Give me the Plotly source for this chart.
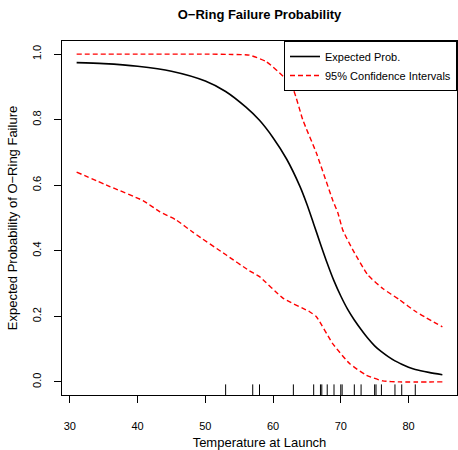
import plotly.graph_objects as go

# Expected probability curve
temp_fit = [31, 35, 40, 45, 50, 53, 56, 58, 60, 62, 64, 65, 66, 67, 68, 69, 70, 71, 72,
            73, 74, 75, 76, 77, 78, 79, 80, 81, 83, 85]
prob_fit = [0.974, 0.971, 0.963, 0.948, 0.918, 0.886, 0.838, 0.798, 0.745, 0.680, 0.595,
            0.542, 0.482, 0.421, 0.362, 0.308, 0.262, 0.222, 0.189, 0.160, 0.133, 0.110,
            0.092, 0.077, 0.064, 0.054, 0.045, 0.038, 0.029, 0.022]

# Upper 95% confidence limit
temp_up = [31, 40, 50, 54, 56.5, 59.0, 61.5, 63.0, 64.4, 66.4, 68.8, 69.6, 70.3, 71.8,
           74.0, 76.2, 78.7, 81.1, 85]
prob_up = [1.0, 1.0, 1.0, 0.999, 0.997, 0.977, 0.932, 0.891, 0.799, 0.698, 0.555, 0.514,
           0.463, 0.402, 0.326, 0.285, 0.250, 0.214, 0.168]

# Lower 95% confidence limit
temp_lo = [31, 35.9, 40.8, 43.3, 45.7, 48.2, 53.1, 56.5, 58.0, 61.5, 65.4, 66.4, 68.8,
           71.3, 73.8, 76.2, 78.7, 85]
prob_lo = [0.640, 0.596, 0.553, 0.519, 0.494, 0.456, 0.387, 0.339, 0.321, 0.255, 0.214,
           0.199, 0.117, 0.056, 0.020, 0.003, 0.0, 0.0]

# Launch temperatures (rug)
launch_temps = [53, 57, 58, 63, 66, 67, 67.2, 68, 69, 70, 70.2, 72, 73, 75, 75.2, 76,
                78, 79, 81]

x_range = [28.84, 87.16]
y_range = [-0.04, 1.04]

fig = go.Figure()

fig.add_trace(go.Scatter(
    x=temp_fit, y=prob_fit, mode="lines", name="Expected Prob.",
    line=dict(color="black", width=1.6, shape="spline", smoothing=0.8),
))
fig.add_trace(go.Scatter(
    x=temp_up, y=prob_up, mode="lines", name="95% Confidence Intervals",
    line=dict(color="red", width=1.4, dash="5px,3px", shape="spline", smoothing=0.5),
))
fig.add_trace(go.Scatter(
    x=temp_lo, y=prob_lo, mode="lines", name="95% Confidence Intervals",
    showlegend=False,
    line=dict(color="red", width=1.4, dash="5px,3px", shape="spline", smoothing=0.5),
))

# rug ticks
rug_h = 0.03 * (y_range[1] - y_range[0])
rx, ry = [], []
for t in launch_temps:
    rx += [t, t, None]
    ry += [y_range[0], y_range[0] + rug_h, None]
fig.add_trace(go.Scatter(x=rx, y=ry, mode="lines", showlegend=False,
                         line=dict(color="black", width=1), hoverinfo="skip"))

font = "Liberation Sans, Arial, Helvetica, sans-serif"

fig.update_layout(
    width=458, height=450,
    margin=dict(l=62, r=1, t=41, b=55),
    paper_bgcolor="white", plot_bgcolor="white",
    font=dict(family=font, size=11, color="black"),
    title=dict(text="<b>O\u2212Ring Failure Probability</b>", x=0.5667, xanchor="center",
               y=1 - 14 / 450, yanchor="middle", font=dict(size=13)),
    showlegend=True,
    legend=dict(x=1, y=1, xanchor="right", yanchor="top",
                bordercolor="black", borderwidth=1, bgcolor="white",
                font=dict(size=11), tracegroupgap=0, itemwidth=30),
)

fig.update_xaxes(
    range=x_range, tickmode="array", tickvals=[30, 40, 50, 60, 70, 80],
    ticks="outside", ticklen=7, tickcolor="black", showgrid=False, zeroline=False,
    showline=True, linecolor="black", linewidth=1, mirror=True,
    ticklabelstandoff=14, automargin=False,
    title=dict(text="Temperature at Launch", standoff=18),
)
fig.update_yaxes(
    range=y_range, tickmode="array", tickvals=[0, 0.2, 0.4, 0.6, 0.8, 1.0],
    tickformat=".1f", tickangle=-90,
    ticks="outside", ticklen=7, tickcolor="black", showgrid=False, zeroline=False,
    showline=True, linecolor="black", linewidth=1, mirror=True,
    ticklabelstandoff=9, automargin=False,
    title=dict(text="Expected Probability of O\u2212Ring Failure", standoff=10),
)

fig.write_html("out.html")
